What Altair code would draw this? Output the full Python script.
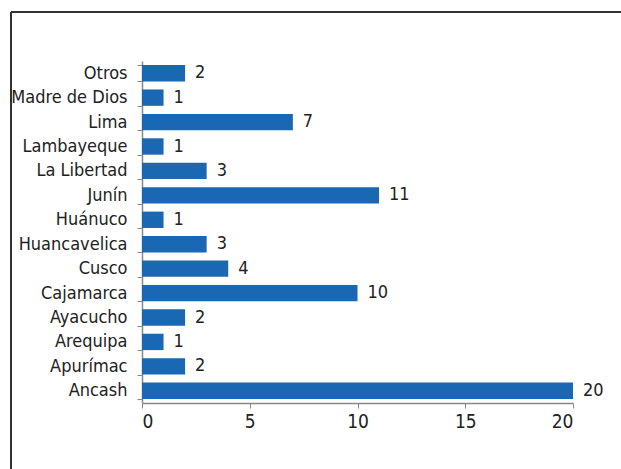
import altair as alt
import pandas as pd

categories = ["Otros", "Madre de Dios", "Lima", "Lambayeque", "La Libertad", "Junín",
              "Huánuco", "Huancavelica", "Cusco", "Cajamarca", "Ayacucho", "Arequipa",
              "Apurímac", "Ancash"]
values = [2, 1, 7, 1, 3, 11, 1, 3, 4, 10, 2, 1, 2, 20]
x_ticks = [0, 5, 10, 15, 20]

df = pd.DataFrame({"cat": categories, "val": values})

FONT = "'Liberation Sans Narrow', 'Arial Narrow', 'DejaVu Sans Condensed', 'Liberation Sans', sans-serif"
BLUE = "#1a67b3"

y = alt.Y("cat:N", sort=categories, title=None,
          scale=alt.Scale(paddingInner=0.33, paddingOuter=0.165),
          axis=alt.Axis(labelFont=FONT, labelFontSize=18, labelColor="#222",
                        labelPadding=10, tickBand="extent", tickSize=5,
                        tickColor="#888", domainColor="#888", domainWidth=1.5))
x = alt.X("val:Q", title=None,
          scale=alt.Scale(domain=[0, 20], nice=False),
          axis=alt.Axis(values=x_ticks, labelFont=FONT, labelFontSize=19,
                        labelColor="#222", grid=False, tickSize=5, tickColor="#888",
                        domainColor="#888", domainWidth=1.5, labelPadding=4))

bars = alt.Chart(df).mark_bar(color=BLUE).encode(x=x, y=y)
labels = alt.Chart(df).mark_text(align="left", dx=10, font=FONT, fontSize=18,
                                 color="#222").encode(x="val:Q", y=alt.Y("cat:N", sort=categories),
                                                      text="val:Q")

frame_left = alt.Chart(df).mark_rule(color="#333", strokeWidth=1.5, clip=False).encode(
    x=alt.value(-131), y=alt.value(-49), y2=alt.value(420))
frame_top = alt.Chart(df).mark_rule(color="#333", strokeWidth=1.5, clip=False).encode(
    x=alt.value(-131), x2=alt.value(500), y=alt.value(-49))

chart = alt.layer(frame_left, frame_top, bars, labels).properties(
    width=431, height=342,
    background="white",
    autosize=alt.AutoSizeParams(type="none"),
    padding={"left": 142, "top": 61, "right": 48, "bottom": 66},
).configure_view(strokeWidth=0, stroke="transparent")

chart.save("out.html", embed_options={"renderer": "svg", "actions": False})
